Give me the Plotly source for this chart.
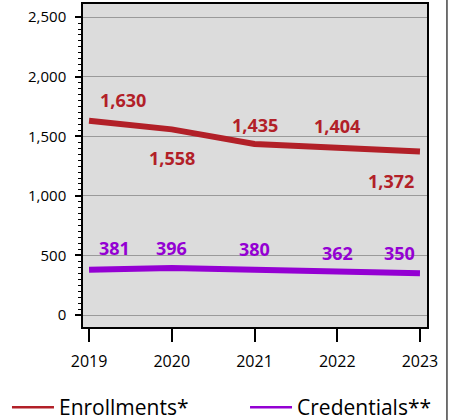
import plotly.graph_objects as go

years = [2019, 2020, 2021, 2022, 2023]
enrollments = [1630, 1558, 1435, 1404, 1372]
credentials = [381, 396, 380, 362, 350]
series_names = ["Enrollments*", "Credentials**"]

RED = "#b22028"
PURPLE = "#9400d3"
FONT = "Open Sans"

# label offsets (pixels) per point
enr_shift = [(34, 21), (0, -29), (0, 19), (0, 22), (-29, -29)]
cre_shift = [(25, 22), (0, 20), (0, 21), (0, 19), (-20, 20)]

fig = go.Figure()
fig.add_trace(go.Scatter(x=years, y=enrollments, mode="lines",
                         line=dict(color=RED, width=6), showlegend=False))
fig.add_trace(go.Scatter(x=years, y=credentials, mode="lines",
                         line=dict(color=PURPLE, width=6), showlegend=False))
# legend entries with thin lines
fig.add_trace(go.Scatter(x=[None], y=[None], mode="lines", name=series_names[0],
                         line=dict(color=RED, width=2.5), legend="legend"))
fig.add_trace(go.Scatter(x=[None], y=[None], mode="lines", name=series_names[1],
                         line=dict(color=PURPLE, width=2.5), legend="legend2"))

for vals, shifts, col in [(enrollments, enr_shift, RED), (credentials, cre_shift, PURPLE)]:
    for x, v, (dx, dy) in zip(years, vals, shifts):
        fig.add_annotation(x=x, y=v, text=f"{v:,}", showarrow=False,
                           xshift=dx, yshift=dy,
                           font=dict(family=FONT, size=18, color=col, weight="bold"))

fig.add_shape(type="line", xref="paper", yref="paper", x0=1.058, x1=1.058,
              y0=-0.35, y1=1.02, line=dict(color="#444", width=1.5))

leg_common = dict(orientation="h", xanchor="left", yanchor="top", y=-0.186,
                  font=dict(size=21, family=FONT, color="black"), itemwidth=42,
                  bgcolor="rgba(0,0,0,0)")
fig.update_layout(
    width=451, height=420,
    margin=dict(l=83, r=24, t=4, b=93, autoexpand=False),
    paper_bgcolor="white", plot_bgcolor="#dcdcdc",
    font=dict(family=FONT, color="black"),
    showlegend=True,
    legend=dict(x=-0.221, **leg_common),
    legend2=dict(x=0.471, **leg_common),
)
fig.update_xaxes(range=[2018.927, 2023.085], tickvals=years, ticks="outside",
                 ticklen=13, tickwidth=1.5, tickcolor="black", showgrid=False,
                 showline=True, linecolor="black", linewidth=1.5, mirror=True,
                 tickfont=dict(size=16), zeroline=False, ticklabelstandoff=6)
fig.update_yaxes(range=[-100, 2610], tickvals=[0, 500, 1000, 1500, 2000, 2500],
                 tickformat=",", ticks="outside", ticklen=6, tickwidth=1.5,
                 tickcolor="black", showgrid=True, gridcolor="#9a9a9a", gridwidth=1,
                 showline=True, linecolor="black", linewidth=1.5, mirror=True,
                 tickfont=dict(size=15), zeroline=False, ticklabelstandoff=6,
                 minor=dict(tickvals=list(range(0, 2501, 50)), ticks="outside",
                            ticklen=3, tickwidth=1, tickcolor="black", showgrid=False))

fig.write_html("out.html", config={"displayModeBar": False},
               post_script="document.body.style.margin='0';")
